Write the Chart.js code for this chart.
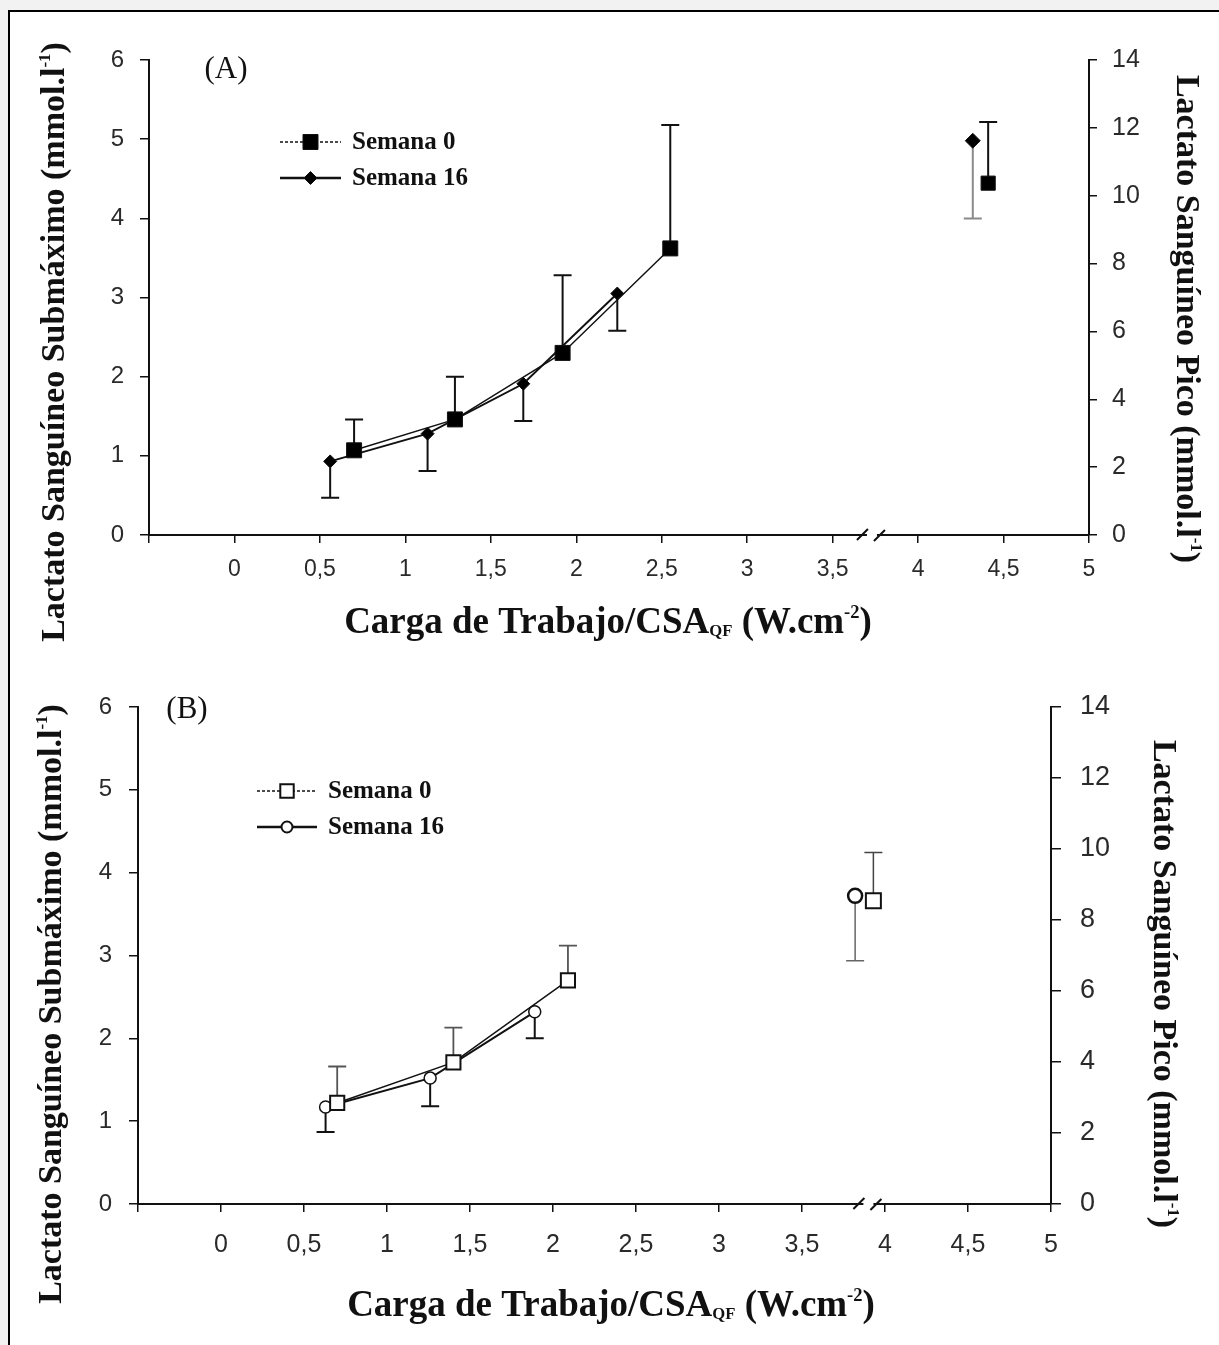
<!DOCTYPE html>
<html>
<head>
<meta charset="utf-8">
<title>Lactato sanguíneo - Semana 0 / Semana 16</title>
<script src="https://cdn.jsdelivr.net/npm/chart.js@4.4.0/dist/chart.umd.min.js"></script>
<style>
  body { margin: 0; background: #f2f2f2; width: 1219px; height: 1345px; overflow: hidden; position: relative; }
  .frame { position: absolute; left: 8px; top: 10px; width: 1300px; height: 1400px; background: #fff;
           border-left: 2px solid #000; border-top: 2px solid #000; }
  canvas { position: absolute; left: 0; }
  #chartA { top: 0; }
  #chartB { top: 660px; }
</style>
</head>
<body>
<div class="frame"></div>
<canvas id="chartA" width="1219" height="660"></canvas>
<canvas id="chartB" width="1219" height="685"></canvas>
<script>
// ---- (A) ----
// submaximal lactate, left axis
var semana0A_x  = [0.70, 1.29, 1.92, 2.55];
var semana0A_y  = [1.07, 1.46, 2.30, 3.62];
var semana0A_sd = [0.39, 0.54, 0.98, 1.56];
var semana16A_x  = [0.56, 1.13, 1.69, 2.24];
var semana16A_y  = [0.93, 1.28, 1.91, 3.05];
var semana16A_sd = [0.46, 0.47, 0.47, 0.47];
// peak lactate, right axis
var picoA_x  = [4.41, 4.32];     // semana 0, semana 16
var picoA_y  = [10.37, 11.62];
var picoA_sd = [1.80, 2.29];
var breakA = 3.73;

// ---- (B) ----
var semana0B_x  = [0.70, 1.40, 2.09];
var semana0B_y  = [1.22, 1.71, 2.70];
var semana0B_sd = [0.44, 0.42, 0.42];
var semana16B_x  = [0.63, 1.26, 1.89];
var semana16B_y  = [1.17, 1.52, 2.32];
var semana16B_sd = [0.30, 0.34, 0.32];
var picoB_x  = [3.93, 3.82];
var picoB_y  = [8.54, 8.68];
var picoB_sd = [1.36, 1.83];
var breakB = 3.90;

var legendLabels = ['Semana 0', 'Semana 16'];
var yTitle  = [{t: 'Lactato Sanguíneo Submáximo (mmol.l'}, {t: '-1', sup: true}, {t: ')'}];
var y2Title = [{t: 'Lactato Sanguíneo Pico (mmol.l'}, {t: '-1', sup: true}, {t: ')'}];
var xTitle  = [{t: 'Carga de Trabajo/CSA'}, {t: 'QF', sub: true}, {t: ' (W.cm'}, {t: '-2', sup: true}, {t: ')'}];

var SERIF = '"Liberation Serif", "Times New Roman", serif';
var SANS = '"Liberation Sans", Arial, sans-serif';

function pts(xs, ys) {
  return xs.map(function (x, i) { return {x: x, y: ys[i]}; });
}

// draw text with sub/superscripts, centred on cx,cy
function richText(ctx, parts, cx, cy, size, angle) {
  var total = 0;
  var items = parts.map(function (p) {
    var s = p.sub ? size * 0.45 : (p.sup ? size * 0.5 : size);
    ctx.font = 'bold ' + s + 'px ' + SERIF;
    var w = ctx.measureText(p.t).width;
    total += w;
    return {p: p, s: s, w: w};
  });
  ctx.save();
  ctx.translate(cx, cy);
  ctx.rotate(angle);
  ctx.fillStyle = '#111';
  ctx.textBaseline = 'alphabetic';
  var x = -total / 2;
  var base = size * 0.33;
  items.forEach(function (it) {
    ctx.font = 'bold ' + it.s + 'px ' + SERIF;
    var dy = 0;
    if (it.p.sub) dy = size * 0.08;
    if (it.p.sup) dy = -size * 0.42;
    ctx.fillText(it.p.t, x, base + dy);
    x += it.w;
  });
  ctx.restore();
}

function marker(ctx, style, x, y, r, fill, bw) {
  ctx.save();
  ctx.beginPath();
  if (style === 'rect') {
    var s = r * Math.SQRT1_2;
    ctx.rect(x - s, y - s, 2 * s, 2 * s);
  } else if (style === 'rectRot') {
    ctx.moveTo(x - r, y); ctx.lineTo(x, y - r); ctx.lineTo(x + r, y); ctx.lineTo(x, y + r); ctx.closePath();
  } else {
    ctx.arc(x, y, r, 0, Math.PI * 2);
  }
  ctx.fillStyle = fill;
  ctx.fill();
  ctx.lineWidth = bw;
  ctx.strokeStyle = '#111';
  ctx.stroke();
  ctx.restore();
}

var extras = {
  id: 'figExtras',
  beforeDatasetsDraw: function (chart) {
    var ctx = chart.ctx;
    var xs = chart.scales.x;
    chart.data.datasets.forEach(function (ds) {
      var ys = chart.scales[ds.yAxisID];
      ds.data.forEach(function (p, j) {
        var px = xs.getPixelForValue(p.x);
        var y0 = ys.getPixelForValue(p.y);
        var y1 = ys.getPixelForValue(p.y + ds.errDir * ds.errors[j]);
        ctx.save();
        ctx.strokeStyle = ds.errColor;
        ctx.lineWidth = ds.errWidth;
        ctx.beginPath();
        ctx.moveTo(px, y0); ctx.lineTo(px, y1);
        ctx.moveTo(px - 9, y1); ctx.lineTo(px + 9, y1);
        ctx.stroke();
        ctx.restore();
      });
    });
  },
  afterDraw: function (chart, args, o) {
    var ctx = chart.ctx;
    var xs = chart.scales.x;
    var area = chart.chartArea;

    // axis break
    var bx = xs.getPixelForValue(o.breakAt);
    var by = area.bottom;
    ctx.save();
    ctx.fillStyle = '#fff';
    ctx.fillRect(bx - 5, by - 3, 10, 6);
    ctx.strokeStyle = '#111';
    ctx.lineWidth = 2;
    ctx.beginPath();
    ctx.moveTo(bx - 15, by + 5); ctx.lineTo(bx - 4, by - 6);
    ctx.moveTo(bx + 2, by + 6); ctx.lineTo(bx + 13, by - 5);
    ctx.stroke();
    ctx.restore();

    // legend
    o.legend.items.forEach(function (it, i) {
      var y = o.legend.y + i * o.legend.gap;
      ctx.save();
      ctx.strokeStyle = '#111';
      ctx.lineWidth = it.lw;
      ctx.setLineDash(it.dash);
      ctx.beginPath();
      ctx.moveTo(o.legend.x0, y); ctx.lineTo(o.legend.x1, y);
      ctx.stroke();
      ctx.restore();
      marker(ctx, it.style, (o.legend.x0 + o.legend.x1) / 2, y, it.r, it.fill, it.bw);
      ctx.save();
      ctx.font = 'bold ' + o.legend.size + 'px ' + SERIF;
      ctx.fillStyle = '#111';
      ctx.textBaseline = 'middle';
      ctx.fillText(legendLabels[i], o.legend.tx, y + 1);
      ctx.restore();
    });

    // panel label
    ctx.save();
    ctx.font = o.panel.size + 'px ' + SERIF;
    ctx.fillStyle = '#111';
    ctx.textAlign = 'center';
    ctx.textBaseline = 'middle';
    ctx.fillText(o.panel.text, o.panel.x, o.panel.y);
    ctx.restore();

    // axis titles
    richText(ctx, yTitle, o.yTitle.x, o.yTitle.y, o.titleSize, -Math.PI / 2);
    richText(ctx, y2Title, o.y2Title.x, o.y2Title.y, o.titleSize, Math.PI / 2);
    richText(ctx, xTitle, o.xTitle.x, o.xTitle.y, o.xTitleSize, 0);
  }
};
Chart.register(extras);

function commaTick(v) {
  if (v < 0) return '';
  return String(Math.round(v * 10) / 10).replace('.', ',');
}

function axisBase(size, pad, tl) {
  return {
    border: {display: true, color: '#111', width: 2},
    grid: {display: true, drawOnChartArea: false, drawTicks: true, tickLength: tl, color: '#111', lineWidth: 1.5},
    ticks: {color: '#2a2a2a', font: {family: SANS, size: size}, padding: pad}
  };
}

function makePanel(id, cfg) {
  var x = axisBase(cfg.xFont, cfg.xPad, 8);
  x.type = 'linear'; x.position = 'bottom'; x.min = -0.5; x.max = 5;
  x.ticks.stepSize = 0.5; x.ticks.autoSkip = false; x.ticks.maxRotation = 0; x.ticks.callback = commaTick;
  x.afterFit = function (s) { s.height = cfg.xHeight; };

  var y = axisBase(cfg.yFont, cfg.yPad, 9);
  y.type = 'linear'; y.position = 'left'; y.min = 0; y.max = 6; y.ticks.stepSize = 1;
  y.afterFit = function (s) { s.width = cfg.left; };

  var y2 = axisBase(cfg.y2Font, cfg.y2Pad, cfg.y2Tick);
  y2.type = 'linear'; y2.position = 'right'; y2.min = 0; y2.max = 14; y2.ticks.stepSize = 2;
  y2.afterFit = function (s) { s.width = cfg.right; };

  return new Chart(document.getElementById(id), {
    type: 'scatter',
    data: {datasets: cfg.datasets},
    options: {
      responsive: false,
      animation: false,
      events: [],
      layout: {padding: {top: cfg.top, left: 0, right: 0, bottom: 0}},
      scales: {x: x, y: y, y2: y2},
      plugins: {legend: {display: false}, tooltip: {enabled: false}, figExtras: cfg.extras}
    }
  });
}

function series(data, axis, style, r, fill, bw, lineW, dash, errors, dir, errColor, errWidth) {
  return {
    data: data, yAxisID: axis, showLine: lineW > 0, borderColor: '#111', borderWidth: lineW,
    borderDash: dash, pointStyle: style, pointRadius: r, pointBackgroundColor: fill,
    pointBorderColor: '#111', pointBorderWidth: bw,
    errors: errors, errDir: dir, errColor: errColor, errWidth: errWidth
  };
}

makePanel('chartA', {
  left: 149, right: 130, top: 60, xHeight: 125,
  xFont: 23, xPad: 13, yFont: 24, yPad: 16, y2Font: 25, y2Pad: 15, y2Tick: 8,
  datasets: [
    series(pts(semana0A_x, semana0A_y), 'y', 'rect', 10.6, '#000', 1, 1.5, [], semana0A_sd, 1, '#111', 2),
    series(pts(semana16A_x, semana16A_y), 'y', 'rectRot', 6.5, '#000', 1, 2, [], semana16A_sd, -1, '#111', 2),
    series([{x: picoA_x[0], y: picoA_y[0]}], 'y2', 'rect', 10, '#000', 1, 0, [], [picoA_sd[0]], 1, '#111', 2),
    series([{x: picoA_x[1], y: picoA_y[1]}], 'y2', 'rectRot', 7.5, '#000', 1, 0, [], [picoA_sd[1]], -1, '#8a8a8a', 2)
  ],
  extras: {
    breakAt: breakA,
    legend: {x0: 280, x1: 341, y: 142, gap: 36, tx: 352, size: 25, items: [
      {style: 'rect', r: 10.6, fill: '#000', bw: 1, lw: 1.5, dash: [3, 2]},
      {style: 'rectRot', r: 6.5, fill: '#000', bw: 1, lw: 2.5, dash: []}
    ]},
    panel: {text: '(A)', x: 226, y: 70, size: 31},
    titleSize: 34, xTitleSize: 37,
    yTitle: {x: 53, y: 342}, y2Title: {x: 1188, y: 319}, xTitle: {x: 608, y: 621}
  }
});

makePanel('chartB', {
  left: 138, right: 168, top: 47, xHeight: 141,
  xFont: 25, xPad: 18, yFont: 24, yPad: 17, y2Font: 27, y2Pad: 19, y2Tick: 10,
  datasets: [
    series(pts(semana0B_x, semana0B_y), 'y', 'rect', 10, '#fff', 2, 1.5, [], semana0B_sd, 1, '#555', 1.8),
    series(pts(semana16B_x, semana16B_y), 'y', 'circle', 6, '#fff', 1.5, 2, [], semana16B_sd, -1, '#111', 2),
    series([{x: picoB_x[0], y: picoB_y[0]}], 'y2', 'rect', 10.6, '#fff', 2, 0, [], [picoB_sd[0]], 1, '#444', 1.5),
    series([{x: picoB_x[1], y: picoB_y[1]}], 'y2', 'circle', 7, '#fff', 2.5, 0, [], [picoB_sd[1]], -1, '#666', 1.5)
  ],
  extras: {
    breakAt: breakB,
    legend: {x0: 257, x1: 317, y: 131, gap: 36, tx: 328, size: 25, items: [
      {style: 'rect', r: 9.5, fill: '#fff', bw: 2, lw: 1.5, dash: [3, 2]},
      {style: 'circle', r: 5.5, fill: '#fff', bw: 2, lw: 2.5, dash: []}
    ]},
    panel: {text: '(B)', x: 187, y: 50, size: 31},
    titleSize: 34, xTitleSize: 37,
    yTitle: {x: 50, y: 344}, y2Title: {x: 1165, y: 324}, xTitle: {x: 611, y: 644}
  }
});
</script>
</body>
</html>
